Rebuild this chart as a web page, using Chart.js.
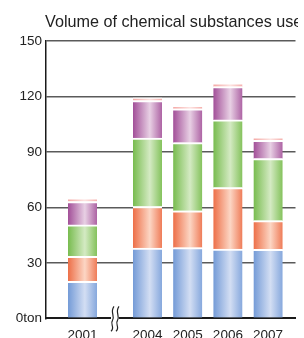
<!DOCTYPE html>
<html><head><meta charset="utf-8">
<script src="https://cdn.jsdelivr.net/npm/chart.js@4/dist/chart.umd.min.js"></script>
<style>html,body{margin:0;padding:0;overflow:hidden;background:#fff;width:304px;height:338px}canvas{display:block}</style>
</head><body>
<canvas id="c" width="304" height="350"></canvas>
<script>
const title = 'Volume of chemical substances used';
const years = ['2001', '2004', '2005', '2006', '2007'];
const yTicks = [0, 30, 60, 90, 120, 150];
const seriesA = [20, 38, 38.2, 37.5, 37.3];      // blue
const seriesB = [13.5, 22.5, 20, 33.2, 15.5];    // orange
const seriesC = [17, 37, 36.8, 36.6, 33.6];      // green
const seriesD = [12.7, 20.3, 18.3, 18, 9.9];     // purple
const seriesE = [1.7, 1.5, 1.6, 1.9, 1.6];       // pink top

// axis break between first and second category
const BREAK_GAP = 0.617;
const xPos = years.map((y, i) => i === 0 ? 0 : i + BREAK_GAP);

const FONT = '"Liberation Sans", Arial, sans-serif';
const BAR_W = 29;

function grad(edge, light, edge2) {
  return function (ctx) {
    const chart = ctx.chart;
    const sx = chart.scales && chart.scales.x;
    if (!sx || !chart.chartArea || ctx.dataIndex === undefined) return edge;
    const cx = sx.getPixelForValue(xPos[ctx.dataIndex]);
    if (!isFinite(cx)) return edge;
    const g = chart.ctx.createLinearGradient(cx - BAR_W / 2, 0, cx + BAR_W / 2, 0);
    g.addColorStop(0, edge);
    g.addColorStop(0.58, light);
    g.addColorStop(1, edge2);
    return g;
  };
}

function ds(label, vals, edge, light, edge2) {
  return {
    label,
    data: vals.map((v, i) => ({ x: xPos[i], y: v })),
    backgroundColor: grad(edge, light, edge2),
    borderColor: '#ffffff',
    borderWidth: { top: 2, left: 0, right: 0, bottom: 0 },
    borderSkipped: false,
    barThickness: BAR_W
  };
}

const titlePlugin = {
  id: 'titleText',
  afterDraw(chart) {
    const c = chart.ctx;
    c.save();
    c.beginPath();
    c.rect(0, 0, 298, 40);
    c.clip();
    c.fillStyle = '#222';
    c.font = '16.2px ' + FONT;
    c.textAlign = 'left';
    c.textBaseline = 'alphabetic';
    c.fillText(title, 45, 27);
    c.restore();
  }
};

const breakPlugin = {
  id: 'axisBreak',
  afterDraw(chart) {
    const sx = chart.scales.x;
    const c = chart.ctx;
    const bx = sx.getPixelForValue((xPos[0] + xPos[1]) / 2);
    const by = chart.chartArea.bottom;
    c.save();
    c.fillStyle = '#fff';
    c.fillRect(bx - 4, by - 3, 8, 6);
    c.strokeStyle = '#222';
    c.lineWidth = 1.2;
    [-2.5, 2.5].forEach(dx => {
      const x0 = bx + dx;
      c.beginPath();
      c.moveTo(x0 + 1.5, by - 12);
      c.bezierCurveTo(x0 - 3, by - 6, x0 + 3, by - 2, x0, by + 2);
      c.bezierCurveTo(x0 - 3, by + 6, x0 + 3, by + 9, x0 - 1.5, by + 13);
      c.stroke();
    });
    c.restore();
  }
};

new Chart(document.getElementById('c'), {
  type: 'bar',
  data: {
    datasets: [
      ds('A', seriesA, '#749bd7', '#d3def3', '#86a8dd'),
      ds('B', seriesB, '#ed6f48', '#fcd6c4', '#ef7c58'),
      ds('C', seriesC, '#78bc4f', '#d4eac3', '#84c25c'),
      ds('D', seriesD, '#a24f98', '#e8d0e4', '#ad63a4'),
      ds('E', seriesE, '#f4a9a6', '#fde3e1', '#f5b0ad')
    ]
  },
  options: {
    responsive: false,
    animation: false,
    layout: { padding: { top: 41, right: 8.5, bottom: 0, left: 0 } },
    plugins: { legend: { display: false }, tooltip: { enabled: false }, title: { display: false } },
    scales: {
      x: {
        type: 'linear',
        stacked: true,
        offset: false,
        min: xPos[1] - 2.525,
        max: xPos[1] + 3.682,
        afterBuildTicks: s => { s.ticks = xPos.map(v => ({ value: v })); },
        afterFit: s => { s.height = 31.7; },
        grid: { display: true, color: 'rgba(0,0,0,0)', drawTicks: false, offset: false },
        border: { display: true, color: '#1a1a1a', width: 2 },
        ticks: {
          autoSkip: false, maxRotation: 0, padding: 9,
          color: '#222', font: { family: FONT, size: 13.5 },
          callback: (v, i) => years[i]
        }
      },
      y: {
        stacked: true,
        min: 0, max: 150,
        afterBuildTicks: s => { s.ticks = yTicks.map(v => ({ value: v })); },
        afterFit: s => { s.width = 46; },
        grid: {
          drawTicks: false,
          lineWidth: 1.6,
          color: c => c.tick && c.tick.value === 0 ? 'rgba(0,0,0,0)' : '#5a5a5a'
        },
        border: { display: true, color: '#1a1a1a', width: 1.5 },
        ticks: {
          padding: 4, color: '#222', font: { family: FONT, size: 13.5 },
          callback: v => v === 0 ? '0ton' : String(v)
        }
      }
    }
  },
  plugins: [titlePlugin, breakPlugin]
});
</script>
</body></html>
